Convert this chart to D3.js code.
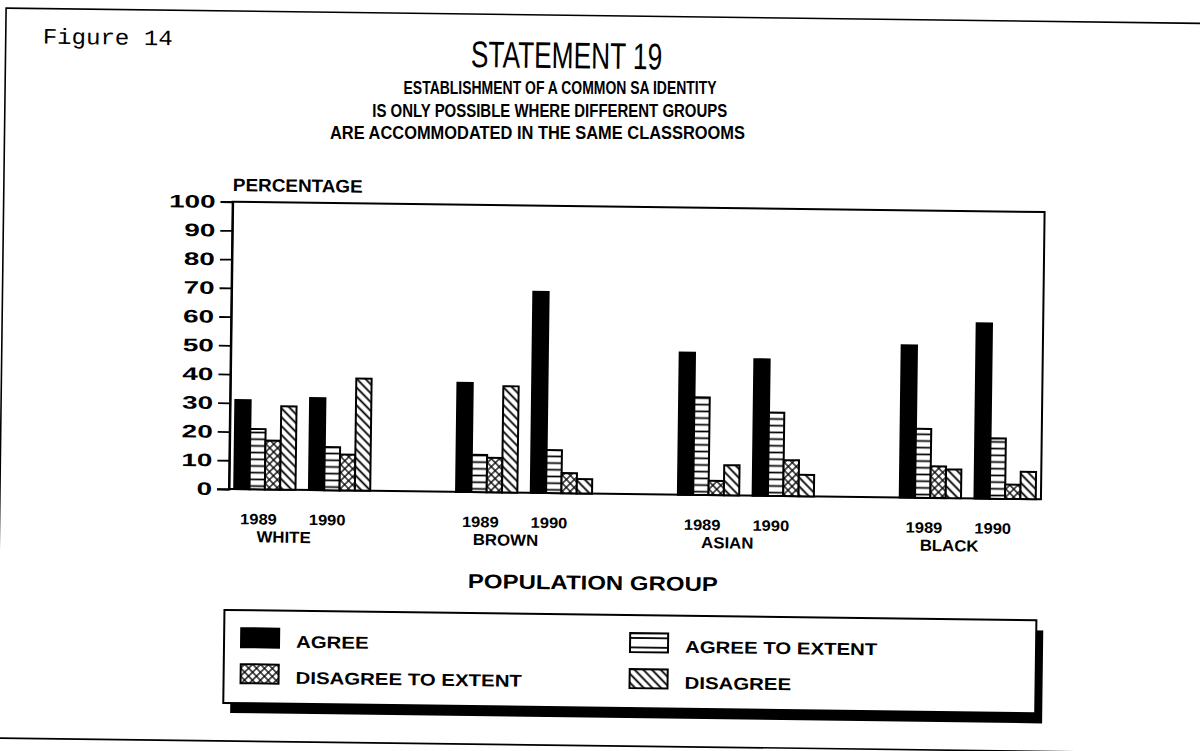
<!DOCTYPE html>
<html>
<head>
<meta charset="utf-8">
<script src="https://cdn.jsdelivr.net/npm/d3@7"></script>
<style>
  html, body { margin: 0; padding: 0; background: #fff; }
  svg { display: block; }
  text { font-family: "Liberation Sans", Arial, sans-serif; fill: #000; }
</style>
</head>
<body>
<svg id="chart" width="1200" height="751"></svg>
<script>
// ---------------- data ----------------
const populations = ["WHITE", "BROWN", "ASIAN", "BLACK"];
const years = ["1989", "1990"];
const seriesNames = ["AGREE", "AGREE TO EXTENT", "DISAGREE TO EXTENT", "DISAGREE"];
// order: WHITE 1989, WHITE 1990, BROWN 1989, BROWN 1990, ASIAN 1989, ASIAN 1990, BLACK 1989, BLACK 1990
const agree            = [31, 32, 38, 70, 49.5, 47.5, 53, 61];
const agreeToExtent    = [21, 15, 13, 15, 34, 29, 24, 21];
const disagreeToExtent = [17, 12.5, 12, 7, 5, 12.5, 11, 5];
const disagree         = [29, 39, 37, 5, 10.5, 7.5, 10, 9.5];
const yTicks = [0, 10, 20, 30, 40, 50, 60, 70, 80, 90, 100];

const titleText = "STATEMENT 19";
const subtitleLines = [
  "ESTABLISHMENT OF A COMMON SA IDENTITY",
  "IS ONLY POSSIBLE WHERE DIFFERENT GROUPS",
  "ARE ACCOMMODATED IN THE SAME CLASSROOMS"
];
const figureLabel = "Figure 14";
const yAxisTitle = "PERCENTAGE";
const xAxisTitle = "POPULATION GROUP";

const seriesValues = [agree, agreeToExtent, disagreeToExtent, disagree];
const records = [];
populations.forEach((p, pi) => years.forEach((yr, yi) => {
  seriesNames.forEach((s, si) => {
    records.push({ pop: p, year: yr, series: s, value: seriesValues[si][pi * 2 + yi] });
  });
}));

// ---------------- layout ----------------
const svg = d3.select("#chart");
const plot = { left: 229, right: 1041, top: 201.7, bottom: 489 };
const tilt = 0.73; // the scanned page is slightly rotated
const root = svg.append("g").attr("transform", `rotate(${tilt},${plot.left},${plot.bottom})`);
const tr = tilt * Math.PI / 180;
function rotatePt(px, py) {
  const dx = px - plot.left, dy = py - plot.bottom;
  return [plot.left + dx * Math.cos(tr) - dy * Math.sin(tr), plot.bottom + dx * Math.sin(tr) + dy * Math.cos(tr)];
}

function stretch(sel, f) {
  sel.each(function () {
    const w = this.getComputedTextLength();
    d3.select(this).attr("textLength", w * f).attr("lengthAdjust", "spacingAndGlyphs");
  });
}
function fitTo(sel, w) {
  sel.attr("textLength", w).attr("lengthAdjust", "spacingAndGlyphs");
}

// patterns
const defs = svg.append("defs");
function linePattern(id, size, rot, lines, sw) {
  const p = defs.append("pattern").attr("id", id).attr("patternUnits", "userSpaceOnUse")
    .attr("width", size).attr("height", size).attr("patternTransform", `rotate(${rot})`);
  p.append("rect").attr("width", size).attr("height", size).attr("fill", "#fff");
  lines.forEach(l => p.append("line").attr("x1", l[0] * size).attr("y1", l[1] * size)
    .attr("x2", l[2] * size).attr("y2", l[3] * size).attr("stroke", "#000").attr("stroke-width", sw));
}
linePattern("pat-ate", 6.7, 0, [[0, 0.5, 1, 0.5]], 1.7);
linePattern("pat-dte", 5.6, 45, [[0.5, 0, 0.5, 1], [0, 0.5, 1, 0.5]], 1.3);
linePattern("pat-dis", 6.2, -45, [[0.5, 0, 0.5, 1]], 1.8);
linePattern("pat-ate-leg", 9.5, 0, [[0, 0.5, 1, 0.5]], 1.8);
const fills = {
  "AGREE": "#000",
  "AGREE TO EXTENT": "url(#pat-ate)",
  "DISAGREE TO EXTENT": "url(#pat-dte)",
  "DISAGREE": "url(#pat-dis)"
};
const legendFills = Object.assign({}, fills, { "AGREE TO EXTENT": "url(#pat-ate-leg)" });

// outer frame of the page
root.append("rect").attr("x", 0).attr("y", 11).attr("width", 1220).attr("height", 730)
  .attr("fill", "none").attr("stroke", "#000").attr("stroke-width", 1.6);

// scales
const x = d3.scalePoint().domain(populations).range([plot.left, plot.right]).padding(0.33);
const xYear = d3.scaleBand().domain(years).range([-68, 68]).paddingInner(0.18);
const xSeries = d3.scaleBand().domain(seriesNames).range([0, xYear.bandwidth()]);
const y = d3.scaleLinear().domain([0, 100]).range([plot.bottom, plot.top]);

// titles
root.append("text").attr("x", 37).attr("y", 46).text(figureLabel)
  .style("font-family", "'Liberation Mono', 'DejaVu Sans Mono', monospace").style("font-size", "22px")
  .call(fitTo, 130);

root.append("text").attr("x", 561).attr("y", 64).attr("text-anchor", "middle")
  .style("font-size", "37px").text(titleText).call(stretch, 0.71);

// subtitle lines: anchored on the tilted page, drawn level so the lines stay apart
const subX = [555, 545, 533];
const subW = [313, 355, 415];
svg.selectAll("text.sub").data(subtitleLines).join("text").attr("class", "sub")
  .attr("x", (d, i) => rotatePt(subX[i], 90 + i * 22.5)[0])
  .attr("y", (d, i) => rotatePt(subX[i], 90 + i * 22.5)[1])
  .attr("text-anchor", "middle")
  .style("font-size", "18px").style("font-weight", "bold").text(d => d)
  .each(function (d, i) { fitTo(d3.select(this), subW[i]); });

root.append("text").attr("x", plot.left).attr("y", 191)
  .style("font-size", "18px").style("font-weight", "bold").text(yAxisTitle).call(stretch, 1.05);

// plot frame
root.append("rect").attr("x", plot.left).attr("y", plot.top)
  .attr("width", plot.right - plot.left).attr("height", plot.bottom - plot.top)
  .attr("fill", "none").attr("stroke", "#000").attr("stroke-width", 2);

// y axis
const yAxis = root.append("g").attr("transform", `translate(${plot.left},0)`)
  .call(d3.axisLeft(y).tickValues(yTicks).tickSize(12).tickPadding(5).tickFormat(d3.format("d")));
yAxis.select(".domain").attr("stroke-width", 2);
yAxis.selectAll(".tick line").attr("stroke-width", 1.8);
yAxis.selectAll(".tick text").style("font-size", "18px").style("font-weight", "bold")
  .style("font-family", "'Liberation Sans', Arial, sans-serif").attr("fill", "#000").call(stretch, 1.55);

// bars
root.append("g").selectAll("rect").data(records).join("rect")
  .attr("x", d => x(d.pop) + xYear(d.year) + xSeries(d.series))
  .attr("y", d => y(d.value))
  .attr("width", xSeries.bandwidth())
  .attr("height", d => y(0) - y(d.value))
  .attr("fill", d => fills[d.series])
  .attr("stroke", "#000").attr("stroke-width", 2);

// x labels
const yearLabelShift = { "1989": -6, "1990": -12 };
const yearLabels = [];
populations.forEach(p => years.forEach(yr => yearLabels.push({ pop: p, year: yr })));
root.selectAll("text.yr").data(yearLabels).join("text").attr("class", "yr")
  .attr("x", d => x(d.pop) + xYear(d.year) + xYear.bandwidth() / 2 + yearLabelShift[d.year])
  .attr("y", 524).attr("text-anchor", "middle")
  .style("font-size", "15px").style("font-weight", "bold").text(d => d.year).call(stretch, 1.1);

root.selectAll("text.pop").data(populations).join("text").attr("class", "pop")
  .attr("x", d => x(d) - 18).attr("y", 542).attr("text-anchor", "middle")
  .style("font-size", "16px").style("font-weight", "bold").text(d => d).call(stretch, 1.05);

root.append("text").attr("x", 594).attr("y", 585).attr("text-anchor", "middle")
  .style("font-size", "20px").style("font-weight", "bold").text(xAxisTitle).call(fitTo, 250);

// legend
const leg = { x: 226, y: 610, w: 812, h: 93 };
root.append("rect").attr("x", leg.x + 7).attr("y", leg.y + 10).attr("width", leg.w).attr("height", leg.h)
  .attr("fill", "#000");
root.append("rect").attr("x", leg.x).attr("y", leg.y).attr("width", leg.w).attr("height", leg.h)
  .attr("fill", "#fff").attr("stroke", "#000").attr("stroke-width", 2);

const legendOrder = ["AGREE", "AGREE TO EXTENT", "DISAGREE TO EXTENT", "DISAGREE"];
const legCol = d3.scaleOrdinal().domain(legendOrder).range([243, 632, 243, 632]);
const legRow = d3.scaleOrdinal().domain(legendOrder).range([628, 628, 664, 664]);
const items = root.selectAll("g.li").data(legendOrder).join("g").attr("class", "li")
  .attr("transform", d => `translate(${legCol(d)},${legRow(d)})`);
items.append("rect").attr("width", 38).attr("height", 19)
  .attr("fill", d => legendFills[d]).attr("stroke", "#000").attr("stroke-width", 2);
items.append("text").attr("x", 55).attr("y", 19)
  .style("font-size", "17px").style("font-weight", "bold").text(d => d).call(stretch, 1.2);
</script>
</body>
</html>
